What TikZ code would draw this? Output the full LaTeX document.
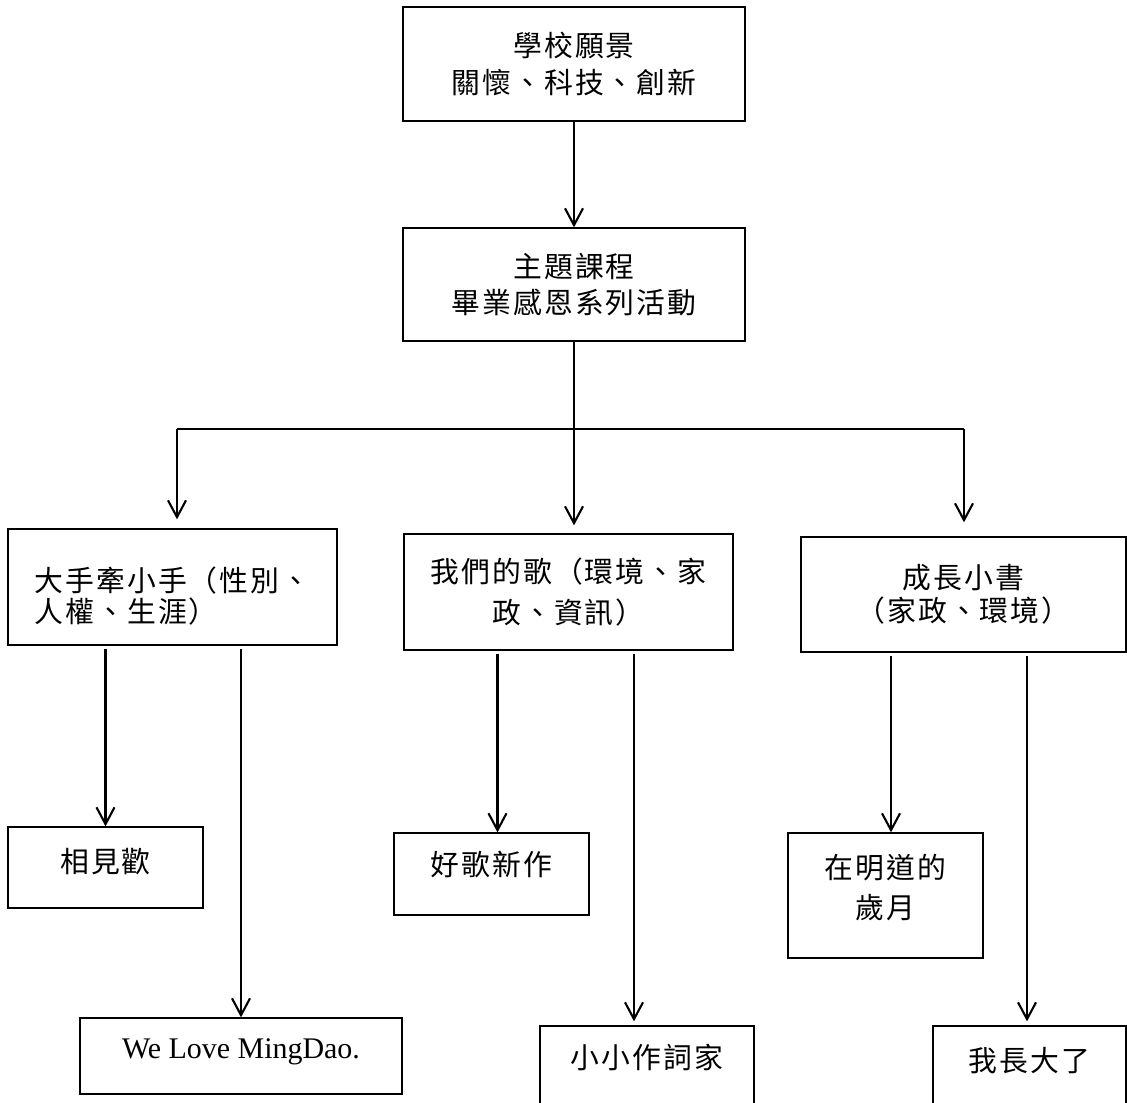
\documentclass[tikz,border=0pt]{standalone}
\usepackage{fontspec}
\setmainfont{Liberation Serif}
\newfontfamily\cjk[LetterSpace=7]{Noto Sans CJK TC}
\newcommand\zh[1]{\cjk\fontsize{20.5pt}{#1}\selectfont}
\usetikzlibrary{arrows.meta, positioning}

\begin{document}
\begin{tikzpicture}[
    box/.style={draw, line width=0.9pt, align=center, inner sep=0pt,
                font={\zh{26pt}}},
    arrow/.style={-{Straight Barb[length=0.42cm, width=0.45cm]}, line width=1.5pt},
    wire/.style={line width=1.5pt}
]
\useasboundingbox (0,0) rectangle (28.175,-27.575);

\node[box, minimum width=8.55cm, minimum height=2.85cm, font={\zh{26.3pt}}] (vision)
    at (14.35,-1.6) {學校願景\\關懷、科技、創新};
\node[box, minimum width=8.55cm, minimum height=2.825cm, font={\zh{25.2pt}}] (theme)
    at (14.35,-7.1125) {主題課程\\畢業感恩系列活動};

\node[box, align=left, minimum width=8.225cm, minimum height=2.9cm, font={\zh{22pt}}] (hand)
    at (4.3125,-14.675) {\rule{0pt}{30pt}大手牽小手（性別、\\人權、生涯）};
\node[box, minimum width=8.225cm, minimum height=2.9cm, font={\zh{29pt}}] (song)
    at (14.2125,-14.8) {我們的歌（環境、家\\政、資訊）};
\node[box, minimum width=8.125cm, minimum height=2.875cm, font={\zh{23.5pt}}] (book)
    at (24.0875,-14.8625) {成長小書\\（家政、環境）};

\node[box, minimum width=4.875cm, text height=1.125cm, text depth=0.9cm] (meet)
    at (2.6375,-21.6875) {相見歡};
\node[box, minimum width=8.05cm, text height=1.0cm, text depth=0.9cm,
      font={\fontsize{21.3pt}{26pt}\selectfont}] (love)
    at (6.025,-26.4) {We Love MingDao.};
\node[box, minimum width=4.875cm, text height=1.05cm, text depth=1.0cm] (newsong)
    at (12.2875,-21.85) {好歌新作};
\node[box, minimum width=5.35cm, text height=1.05cm, text depth=1.0cm] (lyric)
    at (16.175,-26.675) {小小作詞家};
\node[box, minimum width=4.875cm, minimum height=3.125cm, font={\zh{28.5pt}}] (years)
    at (22.1375,-22.3875) {在明道的\\歲月\rule[-12.5pt]{0pt}{12.5pt}};
\node[box, minimum width=4.825cm, text height=1.125cm, text depth=0.925cm] (grown)
    at (25.7375,-26.675) {我長大了};

\coordinate (busL) at (4.425,-10.725);
\coordinate (busR) at (24.1,-10.725);

\draw[arrow] (vision) -- (theme);
\draw[arrow, shorten >=0.2cm] (theme.south) -- (theme.south |- song.north);
\draw[wire] (busL) -- (busR);
\draw[arrow, shorten >=0.225cm] (busL) -- (busL |- hand.north);
\draw[arrow, shorten >=0.35cm] (busR) -- (busR |- book.north);

% second row down to the activities
\draw[arrow, shorten <=0.075cm] (meet.north |- hand.south) -- (meet.north);
\draw[arrow, shorten <=0.075cm] (love.north |- hand.south) -- (love.north);
\draw[arrow, shorten <=0.075cm] ([xshift=0.15cm]newsong.north |- song.south)
    -- ([xshift=0.15cm]newsong.north);
\draw[arrow, shorten <=0.075cm, shorten >=0.1cm] ([xshift=-0.325cm]lyric.north |- song.south)
    -- ([xshift=-0.325cm]lyric.north);
\draw[arrow, shorten <=0.075cm] ([xshift=0.1375cm]years.north |- book.south)
    -- ([xshift=0.1375cm]years.north);
\draw[arrow, shorten <=0.075cm, shorten >=0.1cm] ([xshift=-0.0625cm]grown.north |- book.south)
    -- ([xshift=-0.0625cm]grown.north);

\end{tikzpicture}
\end{document}
